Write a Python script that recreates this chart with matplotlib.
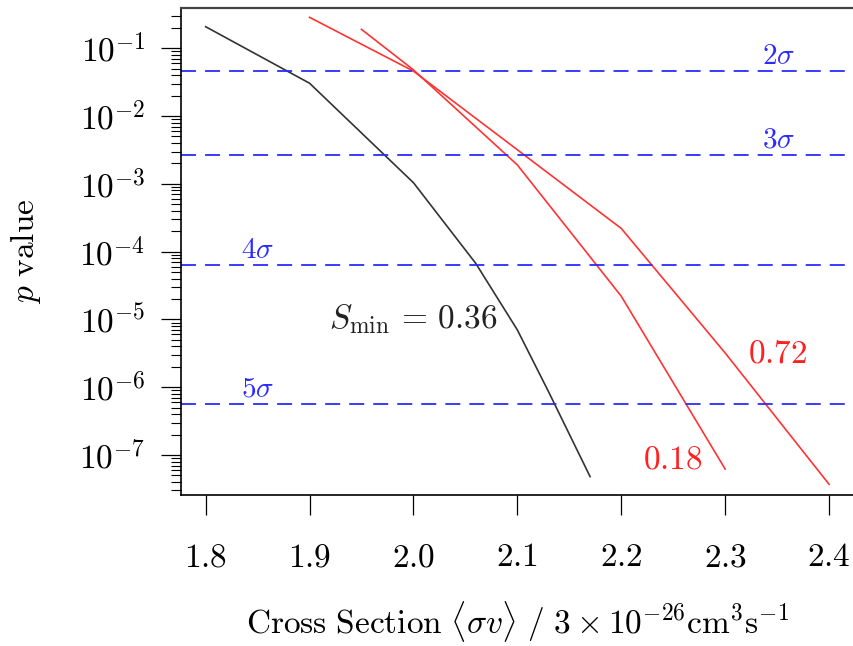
import numpy as np
import matplotlib
matplotlib.use('Agg')
import matplotlib.pyplot as plt
from matplotlib.ticker import FixedLocator, FixedFormatter, LogLocator, NullFormatter

plt.rcParams['mathtext.fontset'] = 'cm'
plt.rcParams['font.family'] = ['DejaVu Serif']
plt.rcParams['lines.scale_dashes'] = False

# curves: cross section (units of 3e-26 cm^3/s) vs p value
x_036 = [1.80, 1.90, 2.00, 2.06, 2.10, 2.13, 2.17]
p_036 = [0.208, 0.0305, 1.04e-3, 6.7e-5, 7.0e-6, 8.6e-7, 4.8e-8]

x_072 = [1.90, 2.00, 2.20, 2.30, 2.40]
p_072 = [0.286, 0.046, 2.2e-4, 3.2e-6, 3.7e-8]

x_018 = [1.95, 2.00, 2.10, 2.20, 2.30]
p_018 = [0.19, 0.048, 1.9e-3, 2.2e-5, 6.2e-8]

# two-sided significance levels
sigma_names = [r'$2\sigma$', r'$3\sigma$', r'$4\sigma$', r'$5\sigma$']
sigma_p = [0.0455, 0.0027, 6.33e-5, 5.73e-7]
sigma_label_x = [2.351, 2.351, 1.85, 1.85]

xticks = [1.8, 1.9, 2.0, 2.1, 2.2, 2.3, 2.4]
yticks = [1e-1, 1e-2, 1e-3, 1e-4, 1e-5, 1e-6, 1e-7]
ytick_labels = [r'$10^{-1}$', r'$10^{-2}$', r'$10^{-3}$', r'$10^{-4}$',
                r'$10^{-5}$', r'$10^{-6}$', r'$10^{-7}$']

fig = plt.figure(figsize=(8.54, 6.46), dpi=100)
ax = fig.add_axes([180.7/854, (646-495)/646, 1 - 180.7/854, (495-8)/646])

ax.plot(x_036, p_036, color='#333333', lw=1.2)
ax.plot(x_072, p_072, color='#ff3333', lw=1.2)
ax.plot(x_018, p_018, color='#ff3333', lw=1.2)

for name, p, lx in zip(sigma_names, sigma_p, sigma_label_x):
    ax.axhline(p, color='#2b2bff', lw=1.3, dashes=(10.8, 6.5))
    ax.annotate(name, (lx, p), xytext=(0, 1), textcoords='offset points',
                ha='center', va='bottom', color='#2b2bff', fontsize=21)

ax.text(2.0, 1.0e-5, r'$S_{\mathrm{min}}\,=\,0.36$', ha='center', va='center',
        fontsize=24, color='#222222')
ax.text(2.351, 3.1e-6, r'$0.72$', ha='center', va='center', fontsize=24, color='#ff2020')
ax.text(2.25, 8.7e-8, r'$0.18$', ha='center', va='center', fontsize=24, color='#ff2020')

ax.set_yscale('log')
ax.set_xlim(1.776, 2.424)
ax.set_ylim(10**-7.59, 10**-0.406)

ax.xaxis.set_major_locator(FixedLocator(xticks))
ax.xaxis.set_major_formatter(FixedFormatter([f'${v:.1f}$' for v in xticks]))
ax.yaxis.set_major_locator(FixedLocator(yticks))
ax.yaxis.set_major_formatter(FixedFormatter(ytick_labels))
ax.yaxis.set_minor_locator(LogLocator(base=10, subs=np.arange(2, 10), numticks=20))
ax.yaxis.set_minor_formatter(NullFormatter())

ax.tick_params(axis='both', which='major', length=14.4, width=0.9,
               labelsize=24, direction='out')
ax.tick_params(axis='x', pad=19)
ax.tick_params(axis='y', pad=11)
ax.tick_params(axis='y', which='minor', length=7.2, width=0.8)

for side in ['left', 'bottom']:
    ax.spines[side].set_linewidth(1.2)
ax.spines['top'].set_linewidth(1.6)
ax.spines['top'].set_color('#444444')
ax.spines['right'].set_visible(False)

ax.set_xlabel(r'$\mathrm{Cross\ Section}\ \langle\sigma v\rangle\ /\ 3\times10^{-26}\mathrm{cm}^3\mathrm{s}^{-1}$',
              fontsize=24)
ax.set_ylabel(r'$p\ \mathrm{value}$', fontsize=24)
ax.xaxis.set_label_coords(0.5, -0.214)
ax.yaxis.set_label_coords(-0.2045, 0.5)

fig.savefig('out.png', dpi=100)
